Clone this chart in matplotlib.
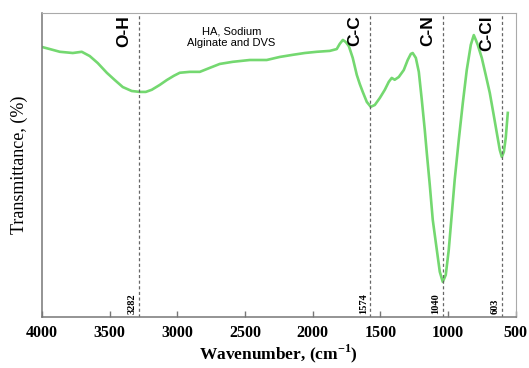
import numpy as np
import matplotlib.pyplot as plt

plt.rcParams['mathtext.fontset'] = 'custom'
plt.rcParams['mathtext.rm'] = 'Liberation Serif:bold'
plt.rcParams['mathtext.bf'] = 'Liberation Serif:bold'

# FTIR spectrum (wavenumber in cm-1, transmittance in %)
wavenumber = [4000, 3941, 3867, 3771, 3705, 3646, 3587, 3520, 3461, 3402,
              3336, 3276, 3232, 3188, 3129, 3077, 3025, 2981, 2907, 2833,
              2760, 2686, 2590, 2464, 2339, 2243, 2147, 2058, 1969, 1873,
              1822, 1800, 1777, 1755, 1733, 1704, 1674, 1652, 1630, 1600,
              1571, 1541, 1504, 1467, 1438, 1416, 1394, 1364, 1327, 1298,
              1275, 1261, 1238, 1216, 1194, 1172, 1157, 1135, 1113, 1083,
              1061, 1039, 1017, 995, 973, 951, 921, 891, 862, 832,
              810, 795, 781, 751, 722, 692, 663, 640, 618, 603,
              588, 574, 559]
transmittance = [88.8, 88.1, 87.2, 86.8, 87.2, 85.8, 83.5, 80.3, 77.9, 75.6,
                 74.3, 74.0, 74.0, 74.7, 76.3, 77.9, 79.3, 80.3, 80.6, 80.6,
                 81.9, 83.2, 83.9, 84.5, 84.5, 85.5, 86.2, 86.8, 87.2, 87.5,
                 88.1, 89.8, 91.1, 90.4, 89.1, 85.2, 79.6, 76.6, 74.0, 70.7,
                 69.1, 69.7, 72.0, 74.7, 77.3, 78.6, 78.0, 78.9, 81.2, 84.5,
                 86.5, 86.8, 85.2, 80.6, 71.4, 61.5, 53.9, 43.4, 31.9, 22.0,
                 14.8, 11.5, 13.8, 22.0, 33.5, 45.1, 58.2, 70.4, 81.2, 89.5,
                 92.7, 91.1, 89.5, 85.2, 79.6, 73.7, 66.4, 60.5, 54.9, 52.6,
                 54.3, 58.9, 67.1]

peaks = [3282, 1574, 1040, 603]
bonds = ['O-H', 'C-C', 'C-N', 'C-Cl']
sample = 'HA, Sodium\nAlginate and DVS'
xticks = [4000, 3500, 3000, 2500, 2000, 1500, 1000, 500]

fig = plt.figure(figsize=(5.29, 3.68), dpi=100)
ax = fig.add_axes([0.079, 0.139, 0.896, 0.826])

ax.plot(wavenumber, transmittance, color='#74d870', linewidth=1.9)

for p, b in zip(peaks, bonds):
    ax.axvline(p, color='#666666', linestyle=(0, (2.5, 2)), linewidth=0.9)
    # bond name at the top, peak value at the bottom, both rotated
    ax.annotate(b, xy=(p, 100), xytext=(-11, -1.5), textcoords='offset points',
                rotation=90, ha='center', va='top', fontsize=12.5,
                family='Liberation Sans', fontweight='bold', color='black')
    ax.annotate(str(p), xy=(p, 0), xytext=(-5, 2), textcoords='offset points',
                rotation=90, ha='center', va='bottom', fontsize=7.5,
                family='Liberation Serif', fontweight='bold')

ax.text(2600, 95.5, sample, ha='center', va='top', fontsize=8,
        family='Liberation Sans', linespacing=1.15)

ax.set_xlim(4000, 500)
ax.set_ylim(0, 100)
ax.set_xticks(xticks)
ax.set_yticks([])
ax.tick_params(axis='x', direction='in', length=4, width=1, color='#777777',
               pad=6, labelsize=11.5)
for lab in ax.get_xticklabels():
    lab.set_family('Liberation Serif')
    lab.set_fontweight('bold')

for side in ['top', 'right']:
    ax.spines[side].set_color('#aaaaaa')
for side in ['left', 'bottom']:
    ax.spines[side].set_color('#777777')
    ax.spines[side].set_linewidth(1.1)

ax.set_xlabel('Wavenumber, (cm$^{\\mathbf{-1}}$)', family='Liberation Serif',
              fontweight='bold', fontsize=12.5, labelpad=1)
ax.set_ylabel('Transmittance, (%)', family='Liberation Serif', fontsize=13,
              labelpad=10)

fig.savefig('out.png', dpi=100)
